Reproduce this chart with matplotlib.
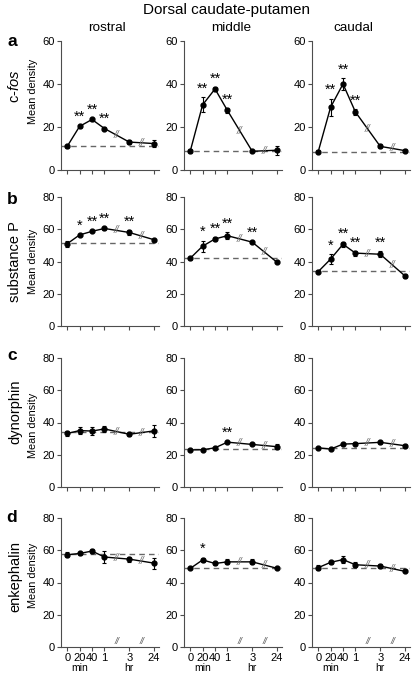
import matplotlib
matplotlib.use('Agg')
import matplotlib.pyplot as plt

plt.rcParams['font.family'] = ['Liberation Sans', 'DejaVu Sans']
plt.rcParams['mathtext.fontset'] = 'custom'
plt.rcParams['mathtext.rm'] = 'Liberation Sans'
plt.rcParams['mathtext.it'] = 'Liberation Sans:italic'

# Zeitpunkte (Positionen auf der x-Achse) und Beschriftungen
positions = [0, 1, 2, 3, 5, 7]
tick_labels = ['0', '20', '40', '1', '3', '24']
regions = ['rostral', 'middle', 'caudal']

# c-fos
cfos_mean = [[11.0, 20.3, 23.5, 19.3, 13.0, 12.3],
             [8.7, 30.3, 37.7, 27.7, 8.7, 9.2],
             [8.5, 29.2, 40.0, 27.0, 11.0, 9.0]]
cfos_err = [[0.6, 0.6, 0.8, 0.6, 1.0, 1.5],
            [1.0, 3.5, 1.0, 1.0, 0.5, 2.0],
            [0.6, 4.0, 2.8, 1.5, 1.0, 0.6]]
cfos_base = [11.0, 9.0, 8.6]
cfos_stars = [['', '**', '**', '**', '', ''],
              ['', '**', '**', '**', '', ''],
              ['', '**', '**', '**', '', '']]

# substance P
subp_mean = [[51.0, 56.5, 58.7, 60.5, 58.0, 53.5],
             [42.0, 49.5, 54.0, 56.0, 52.0, 39.5],
             [33.7, 41.5, 50.7, 45.2, 44.5, 31.0]]
subp_err = [[1.8, 0.6, 0.6, 1.0, 1.5, 0.6],
            [1.0, 3.5, 1.0, 2.0, 0.6, 0.6],
            [1.0, 3.0, 1.5, 1.5, 2.0, 1.2]]
subp_base = [51.5, 42.3, 34.0]
subp_stars = [['', '*', '**', '**', '**', ''],
              ['', '*', '**', '**', '**', ''],
              ['', '*', '**', '**', '**', '']]

# dynorphin
dyn_mean = [[33.2, 35.0, 34.7, 36.0, 32.7, 34.8],
            [23.0, 23.1, 24.3, 27.8, 26.4, 25.0],
            [24.3, 23.5, 26.6, 26.9, 27.7, 25.6]]
dyn_err = [[1.5, 2.0, 2.5, 2.0, 1.0, 3.5],
           [0.6, 0.5, 0.6, 0.6, 0.6, 1.5],
           [0.6, 0.6, 0.8, 1.0, 1.0, 0.8]]
dyn_base = [33.8, 23.4, 24.2]
dyn_stars = [['', '', '', '', '', ''],
             ['', '', '', '**', '', ''],
             ['', '', '', '', '', '']]

# enkephalin
enk_mean = [[57.2, 58.0, 59.5, 55.8, 54.5, 52.0],
            [48.7, 54.0, 51.8, 52.8, 52.8, 48.8],
            [49.2, 52.5, 54.2, 51.0, 50.2, 46.9]]
enk_err = [[1.5, 0.8, 1.0, 3.5, 1.5, 3.5],
           [0.5, 1.5, 1.0, 1.5, 1.5, 0.5],
           [1.5, 1.0, 2.0, 1.5, 1.5, 0.6]]
enk_base = [57.8, 49.0, 49.2]
enk_stars = [['', '', '', '', '', ''],
             ['', '*', '', '', '', ''],
             ['', '', '', '', '', '']]

row_names = ['c-$\\mathit{fos}$', 'substance P', 'dynorphin', 'enkephalin']
panel_letters = ['a', 'b', 'c', 'd']
y_max = [60, 80, 80, 80]

rows = [(cfos_mean, cfos_err, cfos_base, cfos_stars),
        (subp_mean, subp_err, subp_base, subp_stars),
        (dyn_mean, dyn_err, dyn_base, dyn_stars),
        (enk_mean, enk_err, enk_base, enk_stars)]

W, H = 413, 675
fig = plt.figure(figsize=(W / 100, H / 100), dpi=100)

# Layout in Pixeln
col_left = [61, 184, 312]
row_top = [41, 197, 358, 518]
ax_w, ax_h = 98, 129
col_title_x = [107, 231, 353]
row_label_y = [86, 262, 412, 577]
dens_label_y = [91, 261, 425, 575]
letter_y = [42, 200, 355, 517]


def fx(px):
    return px / W


def fy(py):
    return 1 - py / H


fig.text(fx(227), fy(10), 'Dorsal caudate-putamen', ha='center', va='center', fontsize=11)
for c, name in enumerate(regions):
    fig.text(fx(col_title_x[c]), fy(28), name, ha='center', va='center', fontsize=9.7)

for r, (means, errs, bases, stars) in enumerate(rows):
    fig.text(fx(12), fy(letter_y[r]), panel_letters[r], ha='center', va='center',
             fontsize=12.5, fontweight='bold')
    fig.text(fx(15), fy(row_label_y[r]), row_names[r], rotation=90, ha='center',
             va='center', fontsize=10.5)
    fig.text(fx(33), fy(dens_label_y[r]), 'Mean density', rotation=90, ha='center',
             va='center', fontsize=7.8)

    for c in range(3):
        ax = fig.add_axes([fx(col_left[c]), fy(row_top[r] + ax_h), fx(ax_w), ax_h / H])
        m, e = means[c], errs[c]
        ax.axhline(bases[c], color='0.4', ls=(0, (4, 3)), lw=1, zorder=1)
        ax.errorbar(positions, m, yerr=e, color='black', marker='o', ms=3.5, lw=1,
                    elinewidth=0.8, capsize=1.5, capthick=0.8, zorder=3)
        # Unterbrechungszeichen auf der Linie
        for i in (3, 4):
            xm = (positions[i] + positions[i + 1]) / 2
            ym = (m[i] + m[i + 1]) / 2
            ax.text(xm, ym, '//', fontsize=7.5, color='0.45', ha='center', va='center',
                    style='italic', zorder=4)
        # Signifikanzsterne
        for x, y, err, s in zip(positions, m, e, stars[c]):
            if s:
                ax.annotate(s, (x, y + err), xytext=(0, 1), textcoords='offset points',
                            ha='center', va='bottom', fontsize=10.5)

        ax.set_xlim(-0.5, 7.4)
        ax.set_ylim(0, y_max[r])
        ax.set_yticks(range(0, y_max[r] + 1, 20))
        ax.set_xticks(positions)
        for side in ('top', 'right'):
            ax.spines[side].set_visible(False)
        for side in ('left', 'bottom'):
            ax.spines[side].set_linewidth(0.8)
            ax.spines[side].set_color('0.3')
        ax.tick_params(length=3, width=0.8, color='0.3', labelsize=8, pad=1.5)
        if r == 3:
            ax.set_xticklabels(tick_labels)
            for xb in (4, 6):
                ax.text(xb, 0.5, '//', fontsize=6.5, color='0.35', ha='center', va='bottom',
                        style='italic', clip_on=False)
            ax.annotate('min', (1, 0), xycoords=('data', 'axes fraction'), xytext=(0, -15),
                        textcoords='offset points', ha='center', va='center', fontsize=7.5)
            ax.annotate('hr', (5, 0), xycoords=('data', 'axes fraction'), xytext=(0, -15),
                        textcoords='offset points', ha='center', va='center', fontsize=7.5)
        else:
            ax.set_xticklabels([])

fig.savefig('out.png', dpi=100)
